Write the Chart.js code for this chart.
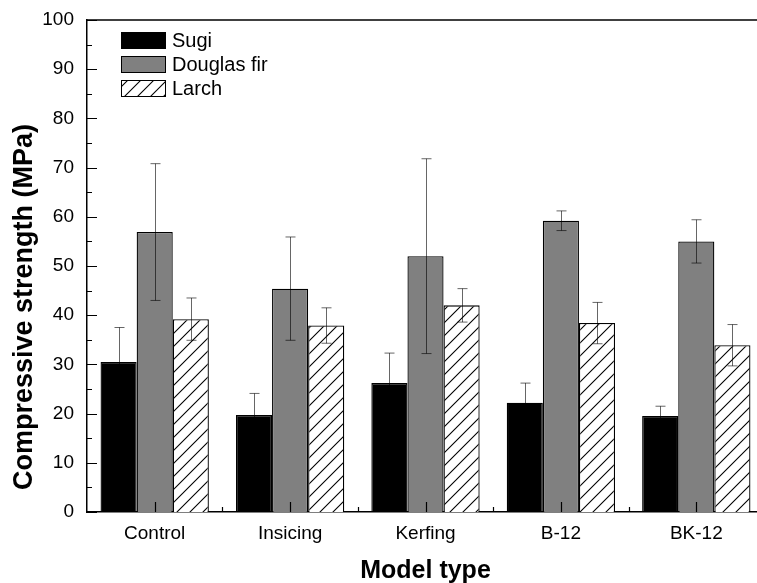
<!DOCTYPE html>
<html>
<head>
<meta charset="utf-8">
<script src="https://cdn.jsdelivr.net/npm/chart.js@4"></script>
<style>
  html, body { margin: 0; padding: 0; background: #fff; overflow: hidden; }
  #wrap { width: 764px; height: 583px; }
</style>
</head>
<body>
<div id="wrap"><canvas id="chart" width="764" height="583"></canvas></div>
<script>
const categories = ["Control", "Insicing", "Kerfing", "B-12", "BK-12"];
const seriesNames = ["Sugi", "Douglas fir", "Larch"];
const sugi = [30.5, 19.7, 26.2, 22.2, 19.5];
const sugiErr = [7.0, 4.4, 6.1, 4.0, 2.0];
const douglas = [56.9, 45.4, 52.0, 59.2, 55.0];
const douglasErr = [13.9, 10.5, 19.8, 2.0, 4.4];
const larch = [39.2, 37.9, 42.0, 38.4, 33.9];
const larchErr = [4.3, 3.6, 3.4, 4.2, 4.2];
const yMin = 0, yMax = 100, yStep = 10;

const FONT = "Arial, 'Liberation Sans', sans-serif";

// diagonal hatch for Larch
function makeHatch() {
  const c = document.createElement("canvas");
  const s = 13;
  c.width = s; c.height = s;
  const g = c.getContext("2d");
  g.fillStyle = "#fff";
  g.fillRect(0, 0, s, s);
  g.strokeStyle = "#000";
  g.lineWidth = 1.1;
  g.beginPath();
  g.moveTo(0, s); g.lineTo(s, 0);
  g.moveTo(-3, 3); g.lineTo(3, -3);
  g.moveTo(s - 3, s + 3); g.lineTo(s + 3, s - 3);
  g.stroke();
  return g.createPattern(c, "repeat");
}
const hatch = makeHatch();
const fills = ["#000000", "#808080", hatch];
const errs = [sugiErr, douglasErr, larchErr];

const extras = {
  id: "extras",
  afterDatasetsDraw(chart) {
    const ctx = chart.ctx;
    const y = chart.scales.y;
    ctx.save();
    ctx.strokeStyle = "rgba(0,0,0,0.6)";
    ctx.lineWidth = 1;
    chart.data.datasets.forEach((ds, d) => {
      const meta = chart.getDatasetMeta(d);
      meta.data.forEach((bar, i) => {
        const hi = y.getPixelForValue(ds.data[i] + errs[d][i]);
        const lo = y.getPixelForValue(ds.data[i] - errs[d][i]);
        const x = Math.round(bar.x) + 0.5;
        ctx.beginPath();
        ctx.moveTo(x, hi); ctx.lineTo(x, lo);
        ctx.moveTo(x - 5, hi); ctx.lineTo(x + 5, hi);
        ctx.moveTo(x - 5, lo); ctx.lineTo(x + 5, lo);
        ctx.stroke();
      });
    });
    ctx.restore();
  },
  afterDraw(chart) {
    const ctx = chart.ctx;
    const a = chart.chartArea;
    const x = chart.scales.x, y = chart.scales.y;
    ctx.save();
    ctx.strokeStyle = "#000";
    ctx.lineWidth = 1.5;
    // top frame line
    ctx.beginPath();
    ctx.moveTo(a.left, a.top); ctx.lineTo(a.right, a.top);
    ctx.stroke();
    // y ticks (inward), major every 10, minor every 5
    ctx.lineWidth = 1.2;
    ctx.beginPath();
    for (let v = yMin; v <= yMax; v += yStep / 2) {
      const py = Math.round(y.getPixelForValue(v)) + 0.5;
      const len = v % yStep === 0 ? 10 : 5;
      ctx.moveTo(a.left, py); ctx.lineTo(a.left + len, py);
    }
    // x ticks (inward), major at categories, minor between
    categories.forEach((c, i) => {
      const px = Math.round(x.getPixelForValue(i)) + 0.5;
      ctx.moveTo(px, a.bottom); ctx.lineTo(px, a.bottom - 10);
      if (i < categories.length - 1) {
        const pm = Math.round((x.getPixelForValue(i) + x.getPixelForValue(i + 1)) / 2) + 0.5;
        ctx.moveTo(pm, a.bottom); ctx.lineTo(pm, a.bottom - 5);
      }
    });
    ctx.stroke();

    // legend
    ctx.font = "20px " + FONT;
    ctx.textBaseline = "middle";
    ctx.textAlign = "left";
    seriesNames.forEach((name, k) => {
      const bx = a.left + 34, by = a.top + 12 + k * 24;
      ctx.fillStyle = fills[k];
      ctx.fillRect(bx, by, 45, 17);
      ctx.lineWidth = 1;
      ctx.strokeStyle = "#000";
      ctx.strokeRect(bx + 0.5, by + 0.5, 44, 16);
      ctx.fillStyle = "#000";
      ctx.fillText(name, bx + 51, by + 9);
    });

    // axis titles
    ctx.font = "bold 27px " + FONT;
    ctx.textAlign = "center";
    ctx.textBaseline = "middle";
    ctx.save();
    ctx.translate(25, 307);
    ctx.rotate(-Math.PI / 2);
    ctx.fillText("Compressive strength (MPa)", 0, 0);
    ctx.restore();
    ctx.font = "bold 25px " + FONT;
    ctx.textBaseline = "alphabetic";
    ctx.fillText("Model type", (a.left + a.right) / 2, 578);
    ctx.restore();
  }
};

new Chart(document.getElementById("chart"), {
  type: "bar",
  data: {
    labels: categories,
    datasets: [
      { label: seriesNames[0], data: sugi, backgroundColor: fills[0] },
      { label: seriesNames[1], data: douglas, backgroundColor: fills[1] },
      { label: seriesNames[2], data: larch, backgroundColor: fills[2] }
    ].map((ds) => Object.assign(ds, {
      borderColor: "#000",
      borderWidth: 1.3,
      categoryPercentage: 0.8,
      barPercentage: 1.0
    }))
  },
  options: {
    responsive: false,
    animation: false,
    layout: { padding: { top: 20, left: 0, right: 0, bottom: 0 } },
    plugins: { legend: { display: false }, tooltip: { enabled: false } },
    scales: {
      x: {
        grid: { display: false },
        border: { display: true, color: "#000", width: 1.5 },
        ticks: { color: "#000", font: { family: FONT, size: 19 }, padding: 2, maxRotation: 0 },
        afterFit(s) { s.height = 71; }
      },
      y: {
        min: yMin, max: yMax,
        grid: { display: false },
        border: { display: true, color: "#000", width: 1.5 },
        ticks: { stepSize: yStep, color: "#000", font: { family: FONT, size: 19 }, padding: 5 },
        afterFit(s) { s.width = 87; }
      }
    }
  },
  plugins: [extras]
});
</script>
</body>
</html>
